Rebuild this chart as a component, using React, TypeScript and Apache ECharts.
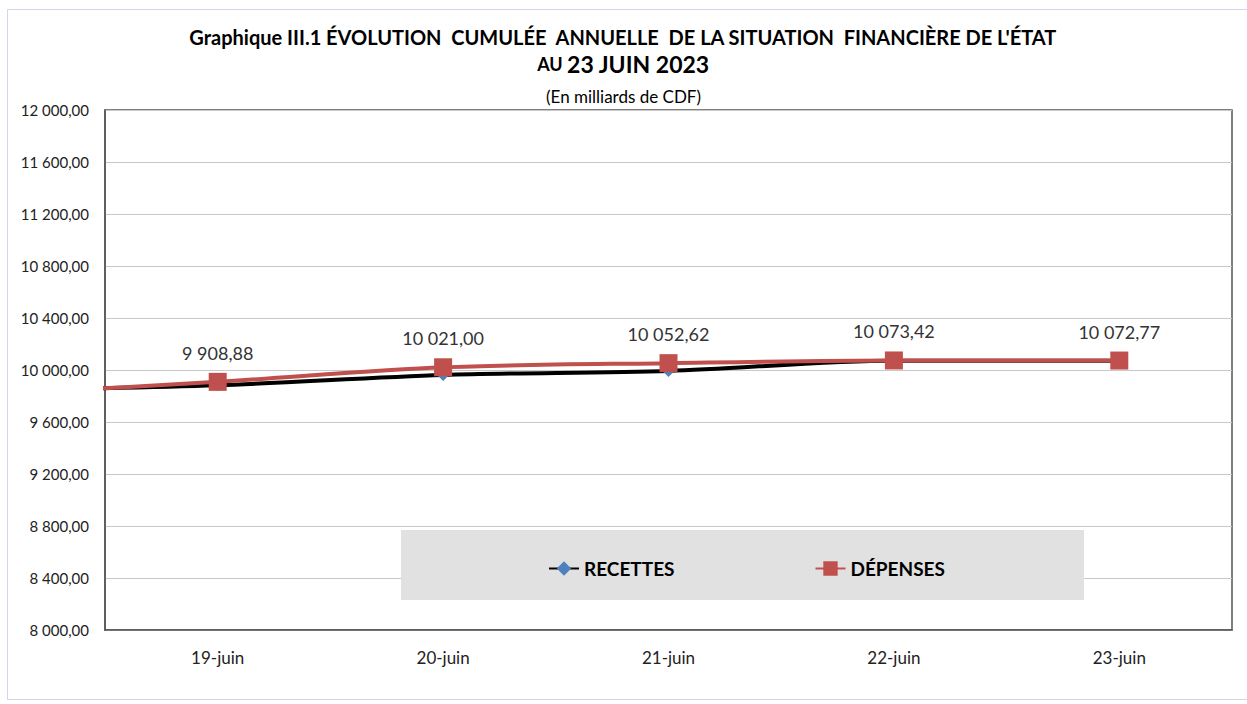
import React, { useEffect, useRef } from "react";
import * as echarts from "echarts";

const categories = ["19-juin", "20-juin", "21-juin", "22-juin", "23-juin"];
// previous day (off-chart, only the entering segment is visible)
const prevRecettes = 9842;
const prevDepenses = 9813;
const recettes = [9882, 9962, 9993, 10071, 10071];
const depenses = [9908.88, 10021.0, 10052.62, 10073.42, 10072.77];
const yMin = 8000;
const yMax = 12000;
const yStep = 400;

const FONT = "Lato, 'Noto Sans', sans-serif";

function fmt(v: number): string {
  const [i, d] = v.toFixed(2).split(".");
  return i.replace(/\B(?=(\d{3})+(?!\d))/g, " ") + "," + d;
}

export default function App() {
  const ref = useRef<HTMLDivElement>(null);
  useEffect(() => {
    if (!ref.current) return;
    const chart = echarts.init(ref.current, undefined, { renderer: "svg" });
    const recData: any[] = [{ value: [-1, prevRecettes], symbol: "none" }].concat(
      recettes.map((v, i) => ({ value: [i, v] } as any))
    );
    const depData: any[] = [
      { value: [-1, prevDepenses], symbol: "none", label: { show: false } },
    ].concat(depenses.map((v, i) => ({ value: [i, v] } as any)));

    chart.setOption({
      animation: false,
      backgroundColor: "#ffffff",
      textStyle: { fontFamily: FONT },
      graphic: [
        {
          type: "rect",
          z: 0,
          shape: { x: 7.5, y: 9.5, width: 1260, height: 690 },
          style: { fill: "none", stroke: "#d4d4ea", lineWidth: 1 },
        },
        {
          type: "text",
          left: "center",
          top: 27,
          style: {
            text: "Graphique III.1 ÉVOLUTION  CUMULÉE  ANNUELLE  DE LA SITUATION  FINANCIÈRE DE L'ÉTAT",
            font: "bold 20px " + FONT,
            fill: "#000",
          },
        },
        {
          type: "text",
          left: "center",
          top: 52,
          style: {
            text: "{a|AU }{b|23 JUIN 2023}",
            rich: {
              a: { font: "bold 18px " + FONT, fill: "#000" },
              b: { font: "bold 23px " + FONT, fill: "#000" },
            },
          },
        },
        {
          type: "text",
          left: "center",
          top: 88,
          style: {
            text: "(En milliards de CDF)",
            font: "17px " + FONT,
            fill: "#000",
          },
        },
        {
          type: "rect",
          z: 3,
          shape: { x: 401, y: 530, width: 683, height: 70 },
          style: { fill: "#e1e1e1" },
        },
      ],
      legend: {
        z: 10,
        left: 543,
        top: 554,
        itemGap: 140,
        itemWidth: 30,
        itemHeight: 18,
        textStyle: { fontFamily: FONT, fontSize: 19, fontWeight: "bold", color: "#000" },
        data: ["RECETTES", "DÉPENSES"],
      },
      grid: {
        left: 105,
        right: 15,
        top: 110,
        bottom: 74,
        show: true,
        borderColor: "#555",
        borderWidth: 1.5,
        backgroundColor: "transparent",
      },
      xAxis: [
        {
          type: "category",
          data: categories,
          boundaryGap: true,
          axisTick: { show: false },
          axisLine: { show: true, lineStyle: { color: "#555", width: 1.5 } },
          axisLabel: { fontSize: 17, color: "#222", margin: 19, fontFamily: FONT },
          splitLine: { show: false },
        },
        {
          type: "value",
          min: -0.5,
          max: 4.5,
          show: false,
          splitLine: { show: false },
        },
      ],
      yAxis: {
        type: "value",
        min: yMin,
        max: yMax,
        interval: yStep,
        axisLine: { show: true, onZero: false, lineStyle: { color: "#555", width: 1.5 } },
        axisTick: { show: false },
        axisLabel: {
          fontSize: 15,
          color: "#222",
          margin: 16,
          fontFamily: FONT,
          formatter: (v: number) => fmt(v),
        },
        splitLine: { show: true, lineStyle: { color: "#c8c8c8", width: 1 } },
      },
      series: [
        {
          name: "RECETTES",
          type: "line",
          xAxisIndex: 1,
          data: recData,
          smooth: 0.3,
          clip: true,
          symbol: "diamond",
          symbolSize: 12,
          z: 2,
          lineStyle: { color: "#000", width: 4 },
          itemStyle: { color: "#4f81bd", borderWidth: 0 },
        },
        {
          name: "DÉPENSES",
          type: "line",
          xAxisIndex: 1,
          data: depData,
          smooth: 0.3,
          clip: true,
          symbol: "rect",
          symbolSize: 18,
          z: 3,
          lineStyle: { color: "#c0504d", width: 4 },
          itemStyle: { color: "#c0504d", borderWidth: 0 },
          label: {
            show: true,
            position: "top",
            distance: 10,
            fontSize: 18,
            color: "#333",
            fontFamily: FONT,
            backgroundColor: "#fff",
            padding: [1, 4],
            formatter: (p: any) => fmt(p.value[1]),
          },
        },
      ],
    });
    return () => chart.dispose();
  }, []);
  return (
    <div
      ref={ref}
      style={{ position: "fixed", left: 0, top: 0, width: 1247, height: 704 }}
    />
  );
}
